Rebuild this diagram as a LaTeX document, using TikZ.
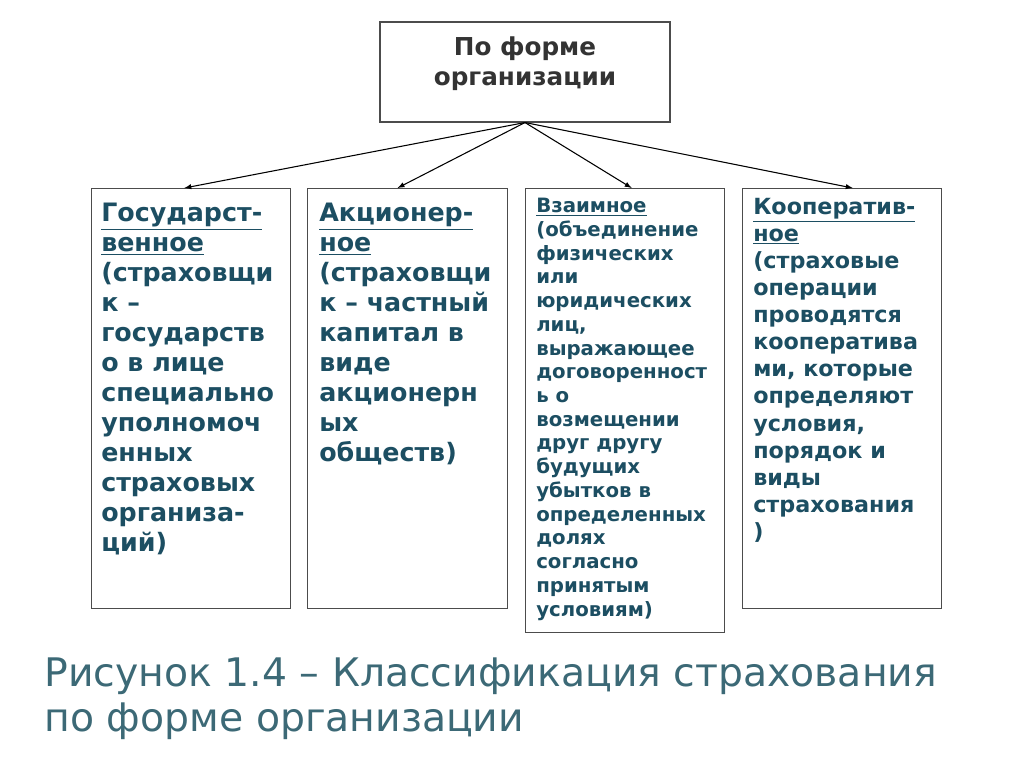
\documentclass[tikz,border=0pt]{standalone}
\usepackage{fontspec}
\setmainfont{DejaVu Sans}
\definecolor{txtblue}{RGB}{28,78,98}
\definecolor{captc}{RGB}{60,105,118}
\tikzset{
  kind/.style={draw=black!70, thick, fill=white},
  kindtext/.style={anchor=north west, align=left, inner sep=0pt, text=txtblue, font=\bfseries},
  link/.style={-latex, thick}
}
\begin{document}
\begin{tikzpicture}[x=0.75pt, y=-0.75pt]
  \useasboundingbox (0,0) rectangle (1024,767);
  % boxes
  \node[kind, minimum width=290*0.75pt, minimum height=100*0.75pt] (top) at (525,72) {};
  \node[align=center, font=\bfseries\fontsize{18.5}{22.5}\selectfont, text=black!80] at ([yshift=6pt]top.center) {По форме\\организации};
  \node[kind, minimum width=199*0.75pt, minimum height=420*0.75pt, anchor=north west] (gos) at (91,188) {};
  \node[kind, minimum width=200*0.75pt, minimum height=420*0.75pt, anchor=north west] (akc) at (307,188) {};
  \node[kind, minimum width=199*0.75pt, minimum height=444*0.75pt, anchor=north west] (vz) at (525,188) {};
  \node[kind, minimum width=199*0.75pt, minimum height=420*0.75pt, anchor=north west] (koop) at (742,188) {};
  % texts
  \node[kindtext, font=\bfseries\fontsize{19}{22.5}\selectfont] at (101,203)
    {\underline{Государст-}\\\underline{венное}\\(страховщи\\к –\\государств\\о в лице\\специально\\уполномоч\\енных\\страховых\\организа-\\ций)};
  \node[kindtext, font=\bfseries\fontsize{19}{22.5}\selectfont] at (319,203)
    {\underline{Акционер-}\\\underline{ное}\\(страховщи\\к – частный\\капитал в\\виде\\акционерн\\ых\\обществ)};
  \node[kindtext, font=\bfseries\fontsize{14.8}{17.8}\selectfont] at (536,198)
    {\underline{Взаимное}\\(объединение\\физических\\или\\юридических\\лиц,\\выражающее\\договоренност\\ь о\\возмещении\\друг другу\\будущих\\убытков в\\определенных\\долях\\согласно\\принятым\\условиям)};
  \node[kindtext, font=\bfseries\fontsize{16.7}{20.3}\selectfont] at (753,198)
    {\underline{Кооператив-}\\\underline{ное}\\(страховые\\операции\\проводятся\\кооператива\\ми, которые\\определяют\\условия,\\порядок и\\виды\\страхования\\)};
  % connectors
  \coordinate (hub) at (top.south);
  \draw[link] (hub) -- ([xshift=-5pt]gos.north);
  \draw[link] (hub) -- ([xshift=-7.5pt]akc.north);
  \draw[link] (hub) -- ([xshift=5pt]vz.north);
  \draw[link] (hub) -- ([xshift=8pt]koop.north);
  % caption
  \node[anchor=north west, align=left, text=captc, font=\fontsize{29.5}{34}\selectfont] (cap) at (40,653)
    {Рисунок 1.4 – Классификация страхования\\по форме организации};
\end{tikzpicture}
\end{document}
